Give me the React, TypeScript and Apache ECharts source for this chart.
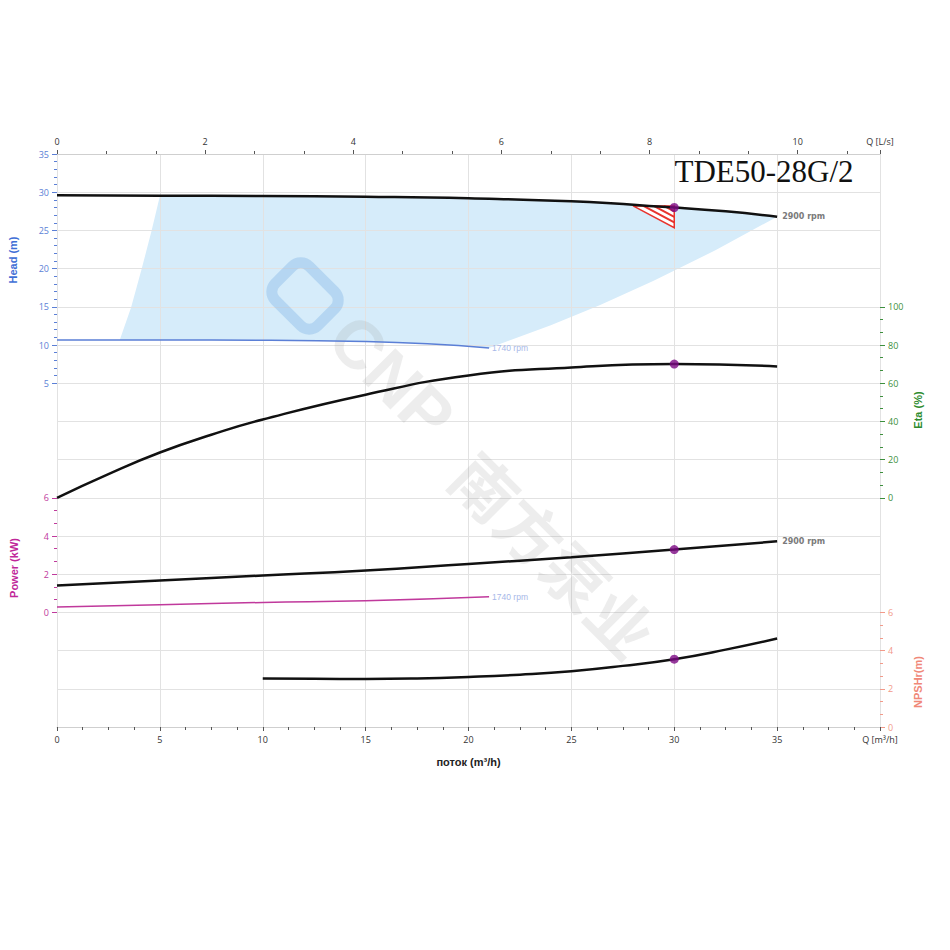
import React, { useEffect, useRef } from 'react';
import * as echarts from 'echarts';

// ---- data ----
const Q_2900 = [0, 5, 10, 15, 20, 25, 30, 32.5, 35];
const HEAD_2900 = [29.6, 29.55, 29.5, 29.4, 29.2, 28.8, 28.0, 27.5, 26.8];
const Q_1740 = [0, 5, 10, 15, 18, 21];
const HEAD_1740 = [10.65, 10.65, 10.62, 10.45, 10.15, 9.6];
const Q_ETA = [0, 2.5, 5, 7.5, 10, 15, 20, 25, 30, 35];
const ETA = [0, 12.4, 23.7, 33, 41, 54, 64, 68.2, 70, 68.8];
const Q_POWER = [0, 5, 10, 15, 20, 25, 30, 35];
const POWER_2900 = [1.41, 1.67, 1.93, 2.19, 2.54, 2.89, 3.29, 3.72];
const Q_POWER_1740 = [0, 5, 10, 15, 21];
const POWER_1740 = [0.28, 0.4, 0.52, 0.61, 0.82];
const Q_NPSH = [10, 12.5, 15, 17.5, 20, 22.5, 25, 27.5, 30, 32.5, 35];
const NPSH = [2.54, 2.52, 2.51, 2.54, 2.62, 2.74, 2.92, 3.2, 3.55, 4.05, 4.63];

const DUTY_Q = 30;
const DUTY_HEAD = 28.0;
const DUTY_ETA = 70;
const DUTY_POWER = 3.29;
const DUTY_NPSH = 3.55;

// operating range (shaded) outline
const AREA_Q = [3.05, 3.6, 4.12, 4.6, 5, 10, 15, 20, 25, 30, 35, 32, 29, 26.4, 24, 21, 18, 15, 10, 5];
const AREA_H = [10.65, 14.9, 20, 25, 29.5, 29.5, 29.4, 29.2, 28.8, 28.0, 26.8, 22.4, 18.4, 15.25, 12.6, 9.6, 10.15, 10.45, 10.62, 10.65];

// tolerance triangle
const TRI_Q = [28.0, 30, 30];
const TRI_H = [28.2, 28.2, 25.35];

const Q_MAX = 40;
const LS_FACTOR = 3.6;

const SANS = "'Liberation Sans', Arial, sans-serif";
const TICKF = "'Open Sans', 'Liberation Sans', sans-serif";

const zip = (xs: number[], ys: number[]) => xs.map((x, i) => [x, ys[i]]);

const GRID_LEFT = 57;
const GRID_W = 823;
const TOP = 154;
const STEP = 573 / 15;

const HEAD_C = '#5b7fd6';
const ETA_C = '#3d8f3d';
const POWER_C = '#c0399c';
const NPSH_C = '#f29a8a';
const GRID_LINE = '#e2e2e2';

function hiddenX(gridIndex: number) {
  return { type: 'value', gridIndex, min: 0, max: Q_MAX, show: false, axisLine: { onZero: false } };
}

function sideY(gridIndex: number, position: string, min: number, max: number, interval: number, color: string, minorSplit: number) {
  return {
    type: 'value',
    gridIndex,
    position,
    min,
    max,
    interval,
    axisLine: { show: false, onZero: false },
    axisTick: { show: true, length: 5, lineStyle: { color } },
    minorTick: { show: true, splitNumber: minorSplit, length: 3, lineStyle: { color } },
    axisLabel: { color, fontSize: 9, fontFamily: TICKF, margin: 8 },
    splitLine: { show: false },
    minorSplitLine: { show: false },
  };
}

export default function App() {
  const ref = useRef<HTMLDivElement>(null);

  useEffect(() => {
    if (!ref.current) return;
    const chart = echarts.init(ref.current, null, { renderer: 'svg' });

    const option: any = {
      animation: false,
      backgroundColor: '#ffffff',
      grid: [
        { left: GRID_LEFT, top: TOP, width: GRID_W, height: STEP * 15 },
        { left: GRID_LEFT, top: TOP, width: GRID_W, height: STEP * 6 },
        { left: GRID_LEFT, top: TOP + STEP * 4, width: GRID_W, height: STEP * 5 },
        { left: GRID_LEFT, top: TOP + STEP * 9, width: GRID_W, height: STEP * 3 },
        { left: GRID_LEFT, top: TOP + STEP * 12, width: GRID_W, height: STEP * 3 },
      ],
      xAxis: [
        {
          type: 'value',
          gridIndex: 0,
          position: 'bottom',
          min: 0,
          max: Q_MAX,
          interval: 5,
          name: 'поток (m³/h)',
          nameLocation: 'middle',
          nameGap: 29,
          nameTextStyle: { color: '#222', fontSize: 11, fontWeight: 'bold', fontFamily: SANS },
          axisLine: { show: true, onZero: false, lineStyle: { color: '#cfcfcf' } },
          axisTick: { show: true, length: 4, lineStyle: { color: '#555' } },
          minorTick: { show: true, splitNumber: 4, length: 3, lineStyle: { color: '#555' } },
          axisLabel: {
            color: '#333',
            fontSize: 9,
            fontFamily: TICKF,
            margin: 8,
            formatter: (v: number) => (v === Q_MAX ? 'Q [m³/h]' : String(v)),
          },
          splitLine: { show: true, lineStyle: { color: GRID_LINE, width: 1 } },
        },
        {
          type: 'value',
          gridIndex: 0,
          position: 'top',
          min: 0,
          max: Q_MAX / LS_FACTOR,
          interval: 2,
          axisLine: { show: true, onZero: false, lineStyle: { color: '#cfcfcf' } },
          axisTick: { show: true, length: 4, lineStyle: { color: '#555' } },
          minorTick: { show: true, splitNumber: 3, length: 3, lineStyle: { color: '#555' } },
          axisLabel: {
            color: '#333',
            fontSize: 9,
            fontFamily: TICKF,
            margin: 8,
            showMaxLabel: true,
            formatter: (v: number) => (v > 10.5 ? 'Q [L/s]' : String(Math.round(v))),
          },
          splitLine: { show: false },
        },
        hiddenX(1),
        hiddenX(2),
        hiddenX(3),
        hiddenX(4),
      ],
      yAxis: [
        {
          type: 'value',
          gridIndex: 0,
          min: 0,
          max: 15,
          interval: 1,
          axisLine: { show: false, onZero: false },
          axisTick: { show: false },
          axisLabel: { show: false },
          splitLine: { show: true, lineStyle: { color: GRID_LINE, width: 1 } },
        },
        sideY(1, 'left', 5, 35, 5, HEAD_C, 5),
        sideY(2, 'right', 0, 100, 20, ETA_C, 3),
        sideY(3, 'left', 0, 6, 2, POWER_C, 3),
        sideY(4, 'right', 0, 6, 2, NPSH_C, 3),
      ],
      graphic: [
        {
          type: 'text',
          x: 764,
          y: 171,
          z: 5,
          style: {
            text: 'TDE50-28G/2',
            fontFamily: "'Liberation Serif', 'Times New Roman', serif",
            fontSize: 31,
            fill: '#111',
            textAlign: 'center',
            textVerticalAlign: 'middle',
          },
        },
        {
          type: 'text',
          x: 13,
          y: 260,
          rotation: Math.PI / 2,
          style: { text: 'Head (m)', fontFamily: SANS, fontSize: 11, fontWeight: 'bold', fill: '#3f6fd6', textAlign: 'center', textVerticalAlign: 'middle' },
        },
        {
          type: 'text',
          x: 14,
          y: 568,
          rotation: Math.PI / 2,
          style: { text: 'Power (kW)', fontFamily: SANS, fontSize: 11, fontWeight: 'bold', fill: '#c0279a', textAlign: 'center', textVerticalAlign: 'middle' },
        },
        {
          type: 'text',
          x: 918,
          y: 410,
          rotation: Math.PI / 2,
          style: { text: 'Eta (%)', fontFamily: SANS, fontSize: 11, fontWeight: 'bold', fill: '#2e8b2e', textAlign: 'center', textVerticalAlign: 'middle' },
        },
        {
          type: 'text',
          x: 918,
          y: 682,
          rotation: Math.PI / 2,
          style: { text: 'NPSHr(m)', fontFamily: SANS, fontSize: 11, fontWeight: 'bold', fill: '#f08878', textAlign: 'center', textVerticalAlign: 'middle' },
        },
        // watermark
        {
          type: 'rect',
          x: 305,
          y: 296,
          z: 1,
          rotation: -Math.PI / 4,
          shape: { x: -30, y: -24, width: 60, height: 48, r: 12 },
          style: { fill: 'none', stroke: 'rgba(120,175,225,0.35)', lineWidth: 11 },
        },
        {
          type: 'text',
          x: 392,
          y: 377,
          z: 1,
          rotation: -Math.PI / 4,
          style: {
            text: 'CNP',
            fontFamily: SANS,
            fontSize: 68,
            fontWeight: 'bold',
            fill: 'rgba(140,140,140,0.16)',
            textAlign: 'center',
            textVerticalAlign: 'middle',
          },
        },
        {
          type: 'text',
          x: 555,
          y: 553,
          z: 1,
          rotation: -Math.PI / 4,
          style: {
            text: '南方泵业',
            fontFamily: "'Noto Sans CJK SC', sans-serif",
            fontSize: 64,
            fontWeight: 'bold',
            fill: 'rgba(140,140,140,0.16)',
            textAlign: 'center',
            textVerticalAlign: 'middle',
          },
        },
      ],
      series: [
        {
          type: 'custom',
          name: 'range',
          xAxisIndex: 2,
          yAxisIndex: 1,
          z: -1,
          silent: true,
          data: [0],
          renderItem: (_p: any, api: any) => ({
            type: 'polygon',
            shape: { points: AREA_Q.map((q, i) => api.coord([q, AREA_H[i]])) },
            style: { fill: '#d6ecfa' },
          }),
        },
        {
          type: 'custom',
          name: 'tolerance',
          xAxisIndex: 2,
          yAxisIndex: 1,
          silent: true,
          data: [0],
          renderItem: (_p: any, api: any) => {
            const a = api.coord([TRI_Q[0], TRI_H[0]]);
            const b = api.coord([TRI_Q[1], TRI_H[1]]);
            const c = api.coord([TRI_Q[2], TRI_H[2]]);
            const children: any[] = [
              { type: 'polygon', shape: { points: [a, b, c] }, style: { fill: '#ffffff', stroke: '#e8332d', lineWidth: 1.5 } },
            ];
            [0.25, 0.5, 0.75].forEach((t) => {
              const p = [a[0] + t * (b[0] - a[0]), a[1] + t * (b[1] - a[1])];
              const q = [b[0] + (1 - t) * (c[0] - b[0]), b[1] + (1 - t) * (c[1] - b[1])];
              children.push({ type: 'line', shape: { x1: p[0], y1: p[1], x2: q[0], y2: q[1] }, style: { stroke: '#e8332d', lineWidth: 2 } });
            });
            return { type: 'group', children };
          },
        },
        {
          type: 'line',
          name: 'Head 2900',
          xAxisIndex: 2,
          yAxisIndex: 1,
          data: zip(Q_2900, HEAD_2900),
          smooth: true,
          showSymbol: false,
          lineStyle: { color: '#111', width: 2.5 },
          itemStyle: { color: '#111' },
          endLabel: { show: true, formatter: '2900 rpm', color: '#7a7a7a', fontSize: 8, fontWeight: 'bold', fontFamily: "'DejaVu Sans', sans-serif", distance: 5 },
        },
        {
          type: 'line',
          name: 'Head 1740',
          xAxisIndex: 2,
          yAxisIndex: 1,
          data: zip(Q_1740, HEAD_1740),
          smooth: true,
          showSymbol: false,
          lineStyle: { color: HEAD_C, width: 1.5 },
          itemStyle: { color: HEAD_C },
          endLabel: { show: true, formatter: '1740 rpm', color: '#a7b8e8', fontSize: 8.5, fontFamily: SANS, distance: 3 },
        },
        {
          type: 'scatter',
          xAxisIndex: 2,
          yAxisIndex: 1,
          z: 4,
          symbolSize: 9,
          itemStyle: { color: '#7d0a85' },
          data: [[DUTY_Q, DUTY_HEAD]],
        },
        {
          type: 'line',
          name: 'Eta',
          xAxisIndex: 3,
          yAxisIndex: 2,
          data: zip(Q_ETA, ETA),
          smooth: true,
          showSymbol: false,
          lineStyle: { color: '#111', width: 2.5 },
        },
        {
          type: 'scatter',
          xAxisIndex: 3,
          yAxisIndex: 2,
          z: 4,
          symbolSize: 9,
          itemStyle: { color: '#7d0a85' },
          data: [[DUTY_Q, DUTY_ETA]],
        },
        {
          type: 'line',
          name: 'Power 2900',
          xAxisIndex: 4,
          yAxisIndex: 3,
          data: zip(Q_POWER, POWER_2900),
          smooth: true,
          showSymbol: false,
          lineStyle: { color: '#111', width: 2.5 },
          itemStyle: { color: '#111' },
          endLabel: { show: true, formatter: '2900 rpm', color: '#7a7a7a', fontSize: 8, fontWeight: 'bold', fontFamily: "'DejaVu Sans', sans-serif", distance: 5 },
        },
        {
          type: 'line',
          name: 'Power 1740',
          xAxisIndex: 4,
          yAxisIndex: 3,
          data: zip(Q_POWER_1740, POWER_1740),
          smooth: true,
          showSymbol: false,
          lineStyle: { color: POWER_C, width: 1.5 },
          itemStyle: { color: POWER_C },
          endLabel: { show: true, formatter: '1740 rpm', color: '#a7b8e8', fontSize: 8.5, fontFamily: SANS, distance: 3 },
        },
        {
          type: 'scatter',
          xAxisIndex: 4,
          yAxisIndex: 3,
          z: 4,
          symbolSize: 9,
          itemStyle: { color: '#7d0a85' },
          data: [[DUTY_Q, DUTY_POWER]],
        },
        {
          type: 'line',
          name: 'NPSHr',
          xAxisIndex: 5,
          yAxisIndex: 4,
          data: zip(Q_NPSH, NPSH),
          smooth: true,
          showSymbol: false,
          lineStyle: { color: '#111', width: 2.5 },
        },
        {
          type: 'scatter',
          xAxisIndex: 5,
          yAxisIndex: 4,
          z: 4,
          symbolSize: 9,
          itemStyle: { color: '#7d0a85' },
          data: [[DUTY_Q, DUTY_NPSH]],
        },
      ],
    };

    chart.setOption(option);
    return () => chart.dispose();
  }, []);

  return <div ref={ref} style={{ position: 'fixed', left: 0, top: 0, width: 950, height: 950, background: '#fff' }} />;
}
